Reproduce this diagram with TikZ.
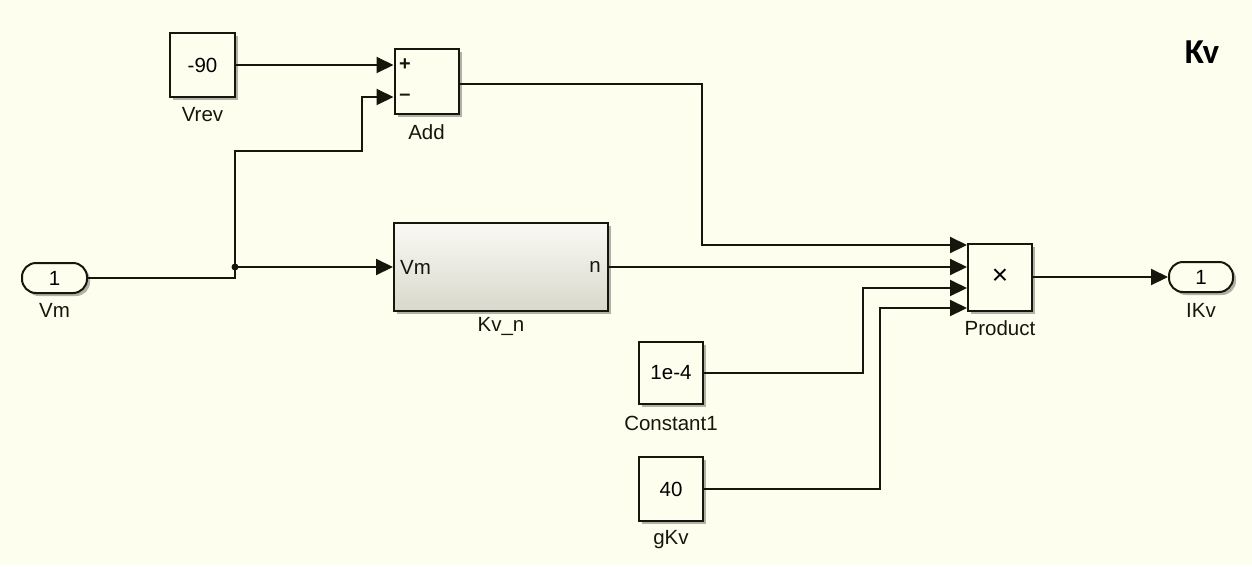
\documentclass[tikz,border=0pt]{standalone}
\usepackage{fontspec}
\setmainfont{Liberation Sans}
\newfontfamily\titlefont{Carlito}
\usetikzlibrary{arrows.meta,shadows}
\definecolor{bgc}{RGB}{254,254,238}
\definecolor{inkc}{RGB}{22,22,12}
\definecolor{subtop}{RGB}{250,250,244}
\definecolor{subbot}{RGB}{216,216,204}
\tikzset{
  blk/.style={draw=inkc, line width=2pt, fill=bgc, inner sep=0pt,
    drop shadow={shadow xshift=3pt, shadow yshift=-3pt, fill=black, opacity=0.3},
    font=\fontsize{20.5}{24}\selectfont},
  portblk/.style={blk, rounded corners=14pt},
  subsys/.style={draw=inkc, line width=2pt, inner sep=0pt,
    top color=subtop, bottom color=subbot,
    drop shadow={shadow xshift=3pt, shadow yshift=-3pt, fill=black, opacity=0.3}},
  lbl/.style={font=\fontsize{20.5}{24}\selectfont, inner sep=0pt, text=inkc},
  sgn/.style={font=\fontsize{20}{22}\selectfont\bfseries, inner sep=0pt, text=inkc},
  wire/.style={draw=inkc, line width=2pt, -{Triangle[length=17pt,width=16pt]}},
  plainwire/.style={draw=inkc, line width=2pt},
}
\begin{document}
\begin{tikzpicture}[x=1pt,y=-1pt]
\useasboundingbox (0,0) rectangle (1252,566);
\fill[bgc] (0,0) rectangle (1252,566);

% blocks
\node[blk, minimum width=65pt, minimum height=64pt] (Vrev) at (202.5,65) {-90};
\node[lbl] (VrevL) at (202.5,115) {Vrev};

\node[blk, minimum width=64pt, minimum height=65pt] (Add) at (426.5,81) {};
\node[sgn] (plus) at (405,65) {+};
\node[sgn] (minus) at (405,97) {\textendash};
\node[lbl] (AddL) at (426.5,132) {Add};

\node[portblk, minimum width=65pt, minimum height=30pt] (Vm) at (54.5,278) {1};
\node[lbl] (VmL) at (54.5,310) {Vm};

\node[subsys, minimum width=214pt, minimum height=88pt] (Kvn) at (501,267) {};
\node[lbl, anchor=west] (KvnIn) at (400,267) {Vm};
\node[lbl, anchor=east] (KvnOut) at (601,267) {n};
\node[lbl] (KvnL) at (501,326) {Kv\_n};

\node[blk, minimum width=64pt, minimum height=67pt, font=\fontsize{28}{28}\selectfont] (Product) at (1000,277) {×};
\node[lbl] (ProductL) at (1000,328) {Product};

\node[portblk, minimum width=64pt, minimum height=30pt] (IKv) at (1201,277) {1};
\node[lbl] (IKvL) at (1201,310) {IKv};

\node[blk, minimum width=64pt, minimum height=62pt] (C1) at (671,373) {1e-4};
\node[lbl] (C1L) at (671,423) {Constant1};

\node[blk, minimum width=64pt, minimum height=64pt] (gKv) at (671,489) {40};
\node[lbl] (gKvL) at (671,540) {gKv};

\node[font=\titlefont\fontsize{35}{40}\selectfont\bfseries, inner sep=0pt, text=black] (title) at (1202,52) {Kv};

% ports / bends
\coordinate (addIn1) at (Add.west |- 0,65);
\coordinate (addIn2) at (Add.west |- 0,97);
\coordinate (addOut) at (Add.east |- 0,84);
\coordinate (br) at (235,267);
\coordinate (pIn1) at (Product.west |- 0,245);
\coordinate (pIn2) at (Product.west |- 0,267);
\coordinate (pIn3) at (Product.west |- 0,288);
\coordinate (pIn4) at (Product.west |- 0,308);

% connectors
\draw[wire] (Vrev.east) -- (addIn1);
\draw[plainwire] (Vm.east) -- (235,278) -- (br);
\draw[wire] (br) -- (Kvn.west);
\draw[wire] (br) -- (235,151) -- (362,151) -- (362,97) -- (addIn2);
\fill[inkc] (br) circle (3.5pt);
\draw[wire] (addOut) -- (702,84) -- (702,245) -- (pIn1);
\draw[wire] (Kvn.east |- pIn2) -- (pIn2);
\draw[wire] (C1.east) -- (863,373) -- (863,288) -- (pIn3);
\draw[wire] (gKv.east |- 0,489) -- (880,489) -- (880,308) -- (pIn4);
\draw[wire] (Product.east) -- (IKv.west);
\end{tikzpicture}
\end{document}
